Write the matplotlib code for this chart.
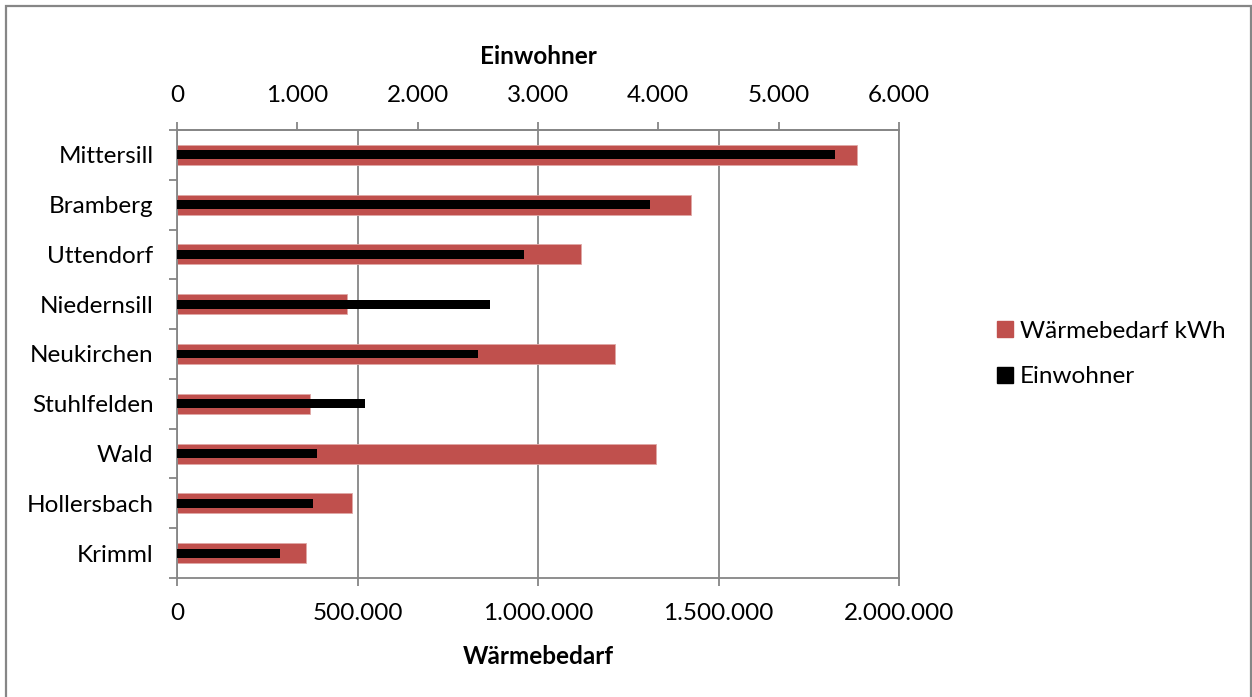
import numpy as np
import matplotlib
matplotlib.use("Agg")
import matplotlib.pyplot as plt
import matplotlib.patches as mpatches

plt.rcParams['font.family'] = ['Lato', 'DejaVu Sans']

# data
orte = ['Mittersill', 'Bramberg', 'Uttendorf', 'Niedernsill', 'Neukirchen',
        'Stuhlfelden', 'Wald', 'Hollersbach', 'Krimml']
waerme = [1884000, 1424000, 1120000, 471000, 1213000, 368000, 1327000, 485000, 358000]
einwohner = [5466, 3931, 2884, 2605, 2505, 1565, 1161, 1128, 858]

waerme_ticks = [0, 500000, 1000000, 1500000, 2000000]
einw_ticks = [0, 1000, 2000, 3000, 4000, 5000, 6000]

rot = '#C0504D'
grau = '#868686'
fs = 17.5


def de_fmt(v):
    # German thousands separator
    return f"{int(v):,}".replace(",", ".")


fig = plt.figure(figsize=(12.52, 6.97), dpi=100)
ax = fig.add_axes([177/1252, 1-578/697, (899-177)/1252, (578-130)/697])

ypos = np.arange(len(orte))[::-1]  # Mittersill oben

ax.barh(ypos, waerme, height=0.4, color=rot, edgecolor='#E0A8A6', linewidth=0.6, zorder=2)
ax.set_xlim(0, 2000000)
ax.set_ylim(-0.5, len(orte)-0.5)
ax.set_xticks(waerme_ticks)
ax.set_xticklabels([de_fmt(v) for v in waerme_ticks], fontsize=fs)
ax.grid(axis='x', color=grau, linewidth=1.3, zorder=0)
ax.set_axisbelow(True)

# category axis: ticks between categories, labels in the middle
ax.set_yticks(np.arange(-0.5, len(orte), 1.0))
ax.set_yticklabels([])
ax.set_yticks(ypos, minor=True)
ax.set_yticklabels(orte, minor=True, fontsize=fs)
ax.tick_params(axis='y', which='major', length=6, color=grau, width=1.3)
ax.tick_params(axis='y', which='minor', length=0, pad=17)
ax.tick_params(axis='x', length=6, color=grau, width=1.3, pad=12)

for s in ax.spines.values():
    s.set_color(grau)
    s.set_linewidth(1.3)

ax2 = ax.twiny()
ax2.barh(ypos, einwohner, height=0.18, color='black', zorder=3)
ax2.set_xlim(0, 6000)
ax2.set_xticks(einw_ticks)
ax2.set_xticklabels([de_fmt(v) for v in einw_ticks], fontsize=fs)
ax2.tick_params(axis='x', length=6, color=grau, width=1.3, pad=11)
for k, s in ax2.spines.items():
    s.set_visible(k == 'top')
    s.set_color(grau)
    s.set_linewidth(1.3)

fig.text(538/1252, 1-57/697, 'Einwohner', ha='center', va='center',
         fontsize=fs, fontweight='bold')
fig.text(538/1252, 1-657/697, 'Wärmebedarf', ha='center', va='center',
         fontsize=fs, fontweight='bold')

handles = [mpatches.Patch(color=rot, label='Wärmebedarf kWh'),
           mpatches.Patch(color='black', label='Einwohner')]
fig.legend(handles=handles, loc='center left', bbox_to_anchor=(985/1252, 1-354/697),
           frameon=False, fontsize=fs, handlelength=0.65, handleheight=0.65,
           handletextpad=0.3, labelspacing=1.0, borderpad=0)

# outer chart frame
frame = mpatches.Rectangle((6/1252, -0.01), (1251-6)/1252, 1.01-6/697,
                           transform=fig.transFigure, fill=False,
                           edgecolor=grau, linewidth=1.6, clip_on=False)
fig.patches.append(frame)

fig.savefig('out.png', dpi=100)
